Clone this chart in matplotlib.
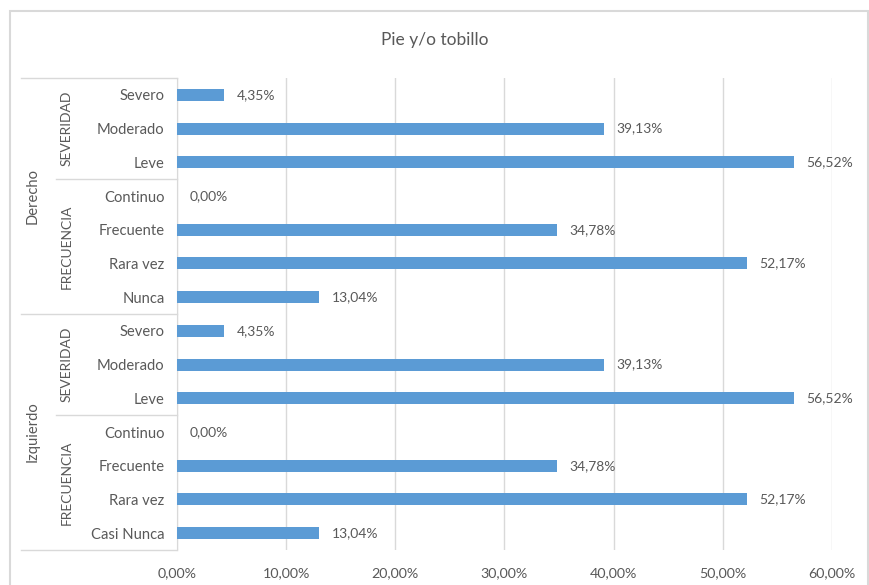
import matplotlib
matplotlib.use("Agg")
import matplotlib.pyplot as plt
from matplotlib import transforms
from matplotlib.lines import Line2D
from matplotlib.patches import Rectangle

# data, top to bottom as drawn
sides = ["Derecho", "Izquierdo"]
groups = ["SEVERIDAD", "FRECUENCIA"]
der_sev_labels = ["Severo", "Moderado", "Leve"]
der_sev_values = [4.35, 39.13, 56.52]
der_freq_labels = ["Continuo", "Frecuente", "Rara vez", "Nunca"]
der_freq_values = [0.00, 34.78, 52.17, 13.04]
izq_sev_labels = ["Severo", "Moderado", "Leve"]
izq_sev_values = [4.35, 39.13, 56.52]
izq_freq_labels = ["Continuo", "Frecuente", "Rara vez", "Casi Nunca"]
izq_freq_values = [0.00, 34.78, 52.17, 13.04]
x_ticks = [0, 10, 20, 30, 40, 50, 60]

labels = der_sev_labels + der_freq_labels + izq_sev_labels + izq_freq_labels
values = der_sev_values + der_freq_values + izq_sev_values + izq_freq_values
blocks = [der_sev_labels, der_freq_labels, izq_sev_labels, izq_freq_labels]

TXT = "#595959"
GRID = "#D9D9D9"
plt.rcParams["font.family"] = ["Lato", "DejaVu Sans"]

W, H = 870, 585
fig = plt.figure(figsize=(W / 100, H / 100), dpi=100)
fig.patches.append(Rectangle((10 / W, -0.1), 858 / W, 1.1 - 11 / H, transform=fig.transFigure,
                             fill=False, edgecolor=GRID, linewidth=1.5))

left, right, top, bottom = 177, 832, 78, 550
ax = fig.add_axes([left / W, (H - bottom) / H, (right - left) / W, (bottom - top) / H])

ypos = list(range(len(labels)))
ax.barh(ypos, values, height=0.36, color="#5B9BD5", zorder=3)
for y, v in zip(ypos, values):
    ax.annotate(f"{v:.2f}".replace(".", ",") + "%", (v, y), xytext=(9, 0),
                textcoords="offset points", va="center", ha="left", color=TXT, fontsize=10)

ax.set_xlim(0, 60)
ax.set_ylim(len(labels) - 0.5, -0.5)
ax.set_xticks(x_ticks)
ax.set_xticklabels([f"{t:.2f}".replace(".", ",") + "%" for t in x_ticks], color=TXT, fontsize=10.3)
ax.set_yticks(ypos)
ax.set_yticklabels(labels, color=TXT, fontsize=10.6)
ax.tick_params(axis="both", length=0)
ax.tick_params(axis="y", pad=9)
ax.tick_params(axis="x", pad=12)
ax.grid(axis="x", color=GRID, linewidth=1, zorder=0)
for s in ["top", "right", "bottom"]:
    ax.spines[s].set_visible(False)
ax.spines["left"].set_color(GRID)

# multi-level category axis
tr = transforms.blended_transform_factory(fig.transFigure, ax.transData)
x_axis = left / W
x_lvl1 = 21 / W
x_lvl2 = 56 / W
start = 0
for i, blk in enumerate(blocks):
    end = start + len(blk)
    mid = (start + end - 1) / 2
    ax.text(67 / W, mid, groups[i % 2], transform=tr, rotation=90, ha="center", va="center",
            color=TXT, fontsize=10)
    xs = x_lvl1 if i % 2 == 1 else x_lvl2
    ax.add_line(Line2D([xs, x_axis], [end - 0.5, end - 0.5], transform=tr, color=GRID,
                       linewidth=1, clip_on=False))
    start = end
ax.add_line(Line2D([x_lvl1, x_axis], [-0.5, -0.5], transform=tr, color=GRID, linewidth=1, clip_on=False))

start = 0
for j, side in enumerate(sides):
    n = len(blocks[2 * j]) + len(blocks[2 * j + 1])
    mid = start + (n - 1) / 2
    ax.text(33 / W, mid, side, transform=tr, rotation=90, ha="center", va="center",
            color=TXT, fontsize=10.6)
    start += n

fig.text(0.5, 1 - 40 / H, "Pie y/o tobillo", ha="center", va="center", color=TXT, fontsize=12.5)

fig.savefig("out.png", dpi=100)
